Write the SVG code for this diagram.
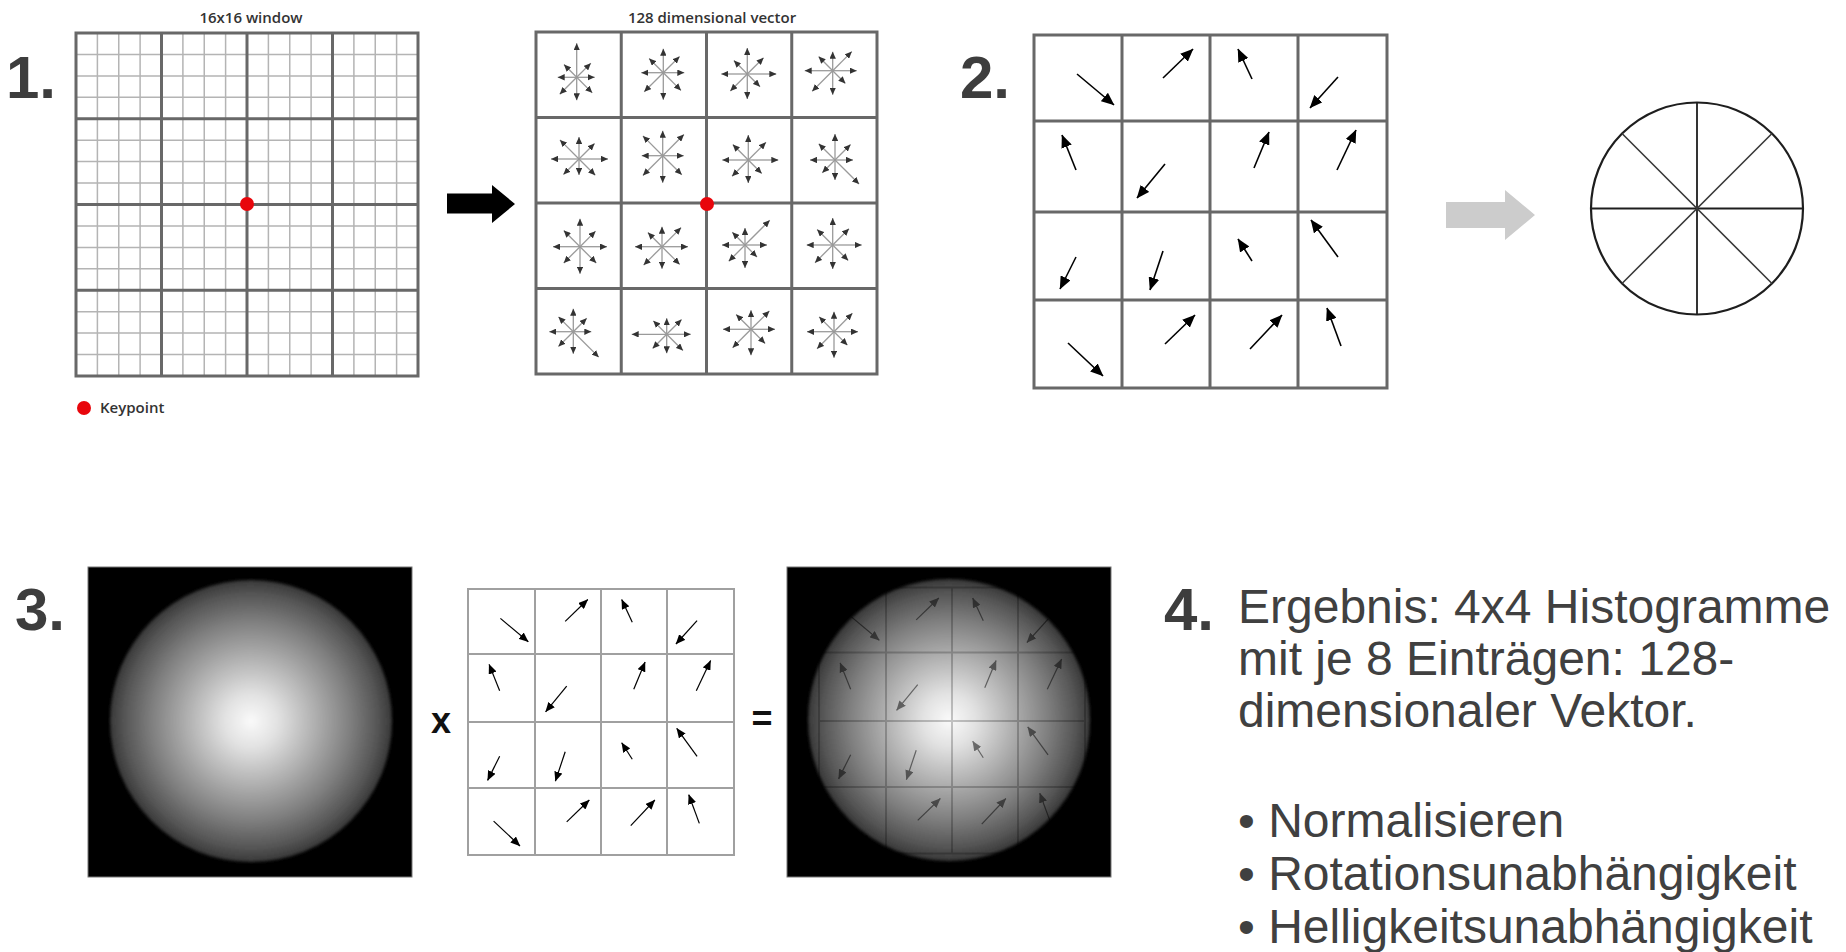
<svg xmlns="http://www.w3.org/2000/svg" xmlns:xlink="http://www.w3.org/1999/xlink" width="1846" height="952" viewBox="0 0 1846 952">
  <style>
    .num { font-family: "Liberation Sans", Arial, sans-serif; font-weight: bold; font-size: 60px; fill: #3d3d3d; }
    .cap { font-family: "Open Sans", "Liberation Sans", sans-serif; font-weight: 600; font-size: 15px; fill: #333; }
    .op { font-family: "Liberation Sans", Arial, sans-serif; font-weight: bold; font-size: 36px; fill: #111; text-anchor: middle; }
    .body { font-family: "Liberation Sans", Arial, sans-serif; font-size: 48px; fill: #404040; }
    .thin { fill: none; stroke: #b4b4b4; stroke-width: 1.5; }
    .thick { fill: none; stroke: #686868; stroke-width: 3; }
    .star line { stroke: #9a9a9a; stroke-width: 1.3; marker-end: url(#star-head); }
    .kp { fill: #e8060c; }
    .sphere { fill: url(#gauss); filter: url(#soft); }
  </style>
  <defs>
    <marker id="star-head" markerUnits="userSpaceOnUse" viewBox="0 0 7 6.4" markerWidth="7" markerHeight="6.4" refX="7" refY="3.2" orient="auto">
      <path d="M0,0 L7,3.2 L0,6.4 z" fill="#333"/>
    </marker>
    <marker id="grad-head" markerUnits="userSpaceOnUse" viewBox="0 0 13 11" markerWidth="13" markerHeight="11" refX="12.5" refY="5.5" orient="auto">
      <path d="M0,0 L13,5.5 L0,11 z" fill="#000"/>
    </marker>
    <radialGradient id="gauss" cx="0.5" cy="0.5" r="0.5">
      <stop offset="0" stop-color="#fafafa"/>
      <stop offset="0.2" stop-color="#e0e0e0"/>
      <stop offset="0.45" stop-color="#b0b0b0"/>
      <stop offset="0.7" stop-color="#808080"/>
      <stop offset="0.9" stop-color="#555"/>
      <stop offset="1" stop-color="#383838"/>
    </radialGradient>
    <filter id="soft" x="-5%" y="-5%" width="110%" height="110%">
      <feGaussianBlur stdDeviation="1.8"/>
    </filter>
    <!-- gradient orientation per 4x4 cell -->
    <g id="grad-arrows" stroke="#000" stroke-width="1.6" marker-end="url(#grad-head)">
      <line x1="1077" y1="74" x2="1114" y2="105"/>
      <line x1="1163" y1="78" x2="1193" y2="49"/>
      <line x1="1252" y1="79" x2="1238" y2="49"/>
      <line x1="1338" y1="77" x2="1310" y2="108"/>
      <line x1="1076" y1="170" x2="1062" y2="135"/>
      <line x1="1165" y1="164" x2="1137" y2="198"/>
      <line x1="1254" y1="168" x2="1269" y2="132"/>
      <line x1="1337" y1="170" x2="1356" y2="130"/>
      <line x1="1076" y1="257" x2="1060" y2="289"/>
      <line x1="1163" y1="251" x2="1150" y2="290"/>
      <line x1="1252" y1="261" x2="1238" y2="239"/>
      <line x1="1338" y1="257" x2="1311" y2="220"/>
      <line x1="1068" y1="343" x2="1103" y2="376"/>
      <line x1="1165" y1="344" x2="1195" y2="315"/>
      <line x1="1250" y1="349" x2="1282" y2="315"/>
      <line x1="1341" y1="346" x2="1327" y2="308"/>
    </g>
  </defs>

  <rect width="1846" height="952" fill="#fff"/>

  <!-- step 1: 16x16 sample window -->
  <g id="window16">
    <text class="num" x="6" y="98">1.</text>
    <text class="cap" x="251" y="23" text-anchor="middle">16x16 window</text>
    <path class="thin" d="M97.4,33V376M118.75,33V376M140.1,33V376M182.9,33V376M204.25,33V376M225.6,33V376M268.4,33V376M289.75,33V376M311.1,33V376M353.9,33V376M375.25,33V376M396.6,33V376
      M76,54.4H418M76,75.9H418M76,97.3H418M76,140.2H418M76,161.6H418M76,183.1H418M76,225.9H418M76,247.4H418M76,268.8H418M76,311.7H418M76,333.1H418M76,354.6H418"/>
    <path class="thick" d="M76,33H418V376H76ZM161.5,33V376M247,33V376M332.5,33V376M76,118.75H418M76,204.5H418M76,290.25H418"/>
    <circle class="kp" cx="247" cy="204" r="7"/>
  </g>

  <g id="legend">
    <circle class="kp" cx="84" cy="408" r="7"/>
    <text class="cap" x="100" y="413">Keypoint</text>
  </g>

  <!-- step 1: descriptor histograms -->
  <g id="vector128">
    <text class="cap" x="712" y="23" text-anchor="middle">128 dimensional vector</text>
    <path class="thick" d="M536,32H877V374H536ZM621.25,32V374M706.5,32V374M791.75,32V374M536,117.5H877M536,203H877M536,288.5H877"/>
    <g class="star" transform="translate(576.7 77.3)"><line x2="18"/><line x2="20" transform="rotate(-45)"/><line x2="34" transform="rotate(-90)"/><line x2="18" transform="rotate(-135)"/><line x2="19" transform="rotate(180)"/><line x2="24" transform="rotate(135)"/><line x2="23" transform="rotate(90)"/><line x2="22" transform="rotate(45)"/></g>
    <g class="star" transform="translate(663.3 72.7)"><line x2="21"/><line x2="23" transform="rotate(-45)"/><line x2="24" transform="rotate(-90)"/><line x2="20" transform="rotate(-135)"/><line x2="22" transform="rotate(180)"/><line x2="27" transform="rotate(135)"/><line x2="27" transform="rotate(90)"/><line x2="25" transform="rotate(45)"/></g>
    <g class="star" transform="translate(747.3 74)"><line x2="29"/><line x2="23" transform="rotate(-45)"/><line x2="26" transform="rotate(-90)"/><line x2="19" transform="rotate(-135)"/><line x2="26" transform="rotate(180)"/><line x2="24" transform="rotate(135)"/><line x2="25" transform="rotate(90)"/><line x2="18" transform="rotate(45)"/></g>
    <g class="star" transform="translate(832.7 70.7)"><line x2="24"/><line x2="27" transform="rotate(-45)"/><line x2="19" transform="rotate(-90)"/><line x2="20" transform="rotate(-135)"/><line x2="28" transform="rotate(180)"/><line x2="29" transform="rotate(135)"/><line x2="24" transform="rotate(90)"/><line x2="18" transform="rotate(45)"/></g>
    <g class="star" transform="translate(579 159)"><line x2="29"/><line x2="22" transform="rotate(-45)"/><line x2="22" transform="rotate(-90)"/><line x2="27" transform="rotate(-135)"/><line x2="28" transform="rotate(180)"/><line x2="22" transform="rotate(135)"/><line x2="16" transform="rotate(90)"/><line x2="23" transform="rotate(45)"/></g>
    <g class="star" transform="translate(662.7 155.7)"><line x2="21"/><line x2="30" transform="rotate(-45)"/><line x2="25" transform="rotate(-90)"/><line x2="28" transform="rotate(-135)"/><line x2="21" transform="rotate(180)"/><line x2="28" transform="rotate(135)"/><line x2="27" transform="rotate(90)"/><line x2="27" transform="rotate(45)"/></g>
    <g class="star" transform="translate(748.3 160)"><line x2="30"/><line x2="25" transform="rotate(-45)"/><line x2="25" transform="rotate(-90)"/><line x2="22" transform="rotate(-135)"/><line x2="26" transform="rotate(180)"/><line x2="23" transform="rotate(135)"/><line x2="23" transform="rotate(90)"/><line x2="19" transform="rotate(45)"/></g>
    <g class="star" transform="translate(835 160)"><line x2="18"/><line x2="22" transform="rotate(-45)"/><line x2="26" transform="rotate(-90)"/><line x2="23" transform="rotate(-135)"/><line x2="25" transform="rotate(180)"/><line x2="18" transform="rotate(135)"/><line x2="20" transform="rotate(90)"/><line x2="34" transform="rotate(45)"/></g>
    <g class="star" transform="translate(580 246.7)"><line x2="27"/><line x2="22" transform="rotate(-45)"/><line x2="28" transform="rotate(-90)"/><line x2="23" transform="rotate(-135)"/><line x2="27" transform="rotate(180)"/><line x2="23" transform="rotate(135)"/><line x2="27" transform="rotate(90)"/><line x2="23" transform="rotate(45)"/></g>
    <g class="star" transform="translate(662 246.7)"><line x2="26"/><line x2="27" transform="rotate(-45)"/><line x2="20" transform="rotate(-90)"/><line x2="20" transform="rotate(-135)"/><line x2="27" transform="rotate(180)"/><line x2="26" transform="rotate(135)"/><line x2="22" transform="rotate(90)"/><line x2="25" transform="rotate(45)"/></g>
    <g class="star" transform="translate(745 245)"><line x2="22"/><line x2="35" transform="rotate(-45)"/><line x2="17" transform="rotate(-90)"/><line x2="18" transform="rotate(-135)"/><line x2="23" transform="rotate(180)"/><line x2="23" transform="rotate(135)"/><line x2="23" transform="rotate(90)"/><line x2="17" transform="rotate(45)"/></g>
    <g class="star" transform="translate(832.7 245)"><line x2="29"/><line x2="23" transform="rotate(-45)"/><line x2="27" transform="rotate(-90)"/><line x2="22" transform="rotate(-135)"/><line x2="26" transform="rotate(180)"/><line x2="25" transform="rotate(135)"/><line x2="24" transform="rotate(90)"/><line x2="22" transform="rotate(45)"/></g>
    <g class="star" transform="translate(573.3 331.7)"><line x2="18"/><line x2="19" transform="rotate(-45)"/><line x2="23" transform="rotate(-90)"/><line x2="21" transform="rotate(-135)"/><line x2="24" transform="rotate(180)"/><line x2="21" transform="rotate(135)"/><line x2="22" transform="rotate(90)"/><line x2="36" transform="rotate(45)"/></g>
    <g class="star" transform="translate(666.7 334.3)"><line x2="24"/><line x2="21" transform="rotate(-45)"/><line x2="16" transform="rotate(-90)"/><line x2="19" transform="rotate(-135)"/><line x2="35" transform="rotate(180)"/><line x2="20" transform="rotate(135)"/><line x2="19" transform="rotate(90)"/><line x2="23" transform="rotate(45)"/></g>
    <g class="star" transform="translate(751 329.3)"><line x2="24"/><line x2="26" transform="rotate(-45)"/><line x2="19" transform="rotate(-90)"/><line x2="21" transform="rotate(-135)"/><line x2="28" transform="rotate(180)"/><line x2="26" transform="rotate(135)"/><line x2="26" transform="rotate(90)"/><line x2="20" transform="rotate(45)"/></g>
    <g class="star" transform="translate(834 331.7)"><line x2="24"/><line x2="26" transform="rotate(-45)"/><line x2="20" transform="rotate(-90)"/><line x2="21" transform="rotate(-135)"/><line x2="27" transform="rotate(180)"/><line x2="24" transform="rotate(135)"/><line x2="26" transform="rotate(90)"/><line x2="19" transform="rotate(45)"/></g>
    <circle class="kp" cx="707" cy="204" r="7"/>
  </g>

  <!-- step 2: orientation per cell and 8-bin histogram -->
  <g id="orientations">
    <text class="num" x="960" y="98">2.</text>
    <path class="thick" d="M1034,35H1387V388H1034ZM1122,35V388M1210,35V388M1298,35V388M1034,121H1387M1034,212H1387M1034,300H1387"/>
    <use xlink:href="#grad-arrows" href="#grad-arrows"/>
  </g>

  <g id="bins" fill="none" stroke="#1e1e1e">
    <circle cx="1697" cy="208.5" r="106" stroke-width="2.2"/>
    <path d="M1591,208.5H1803M1697,102.5V314.5" stroke-width="1.8"/>
    <path d="M1622,133.5L1772,283.5M1622,283.5L1772,133.5" stroke="#3a3a3a" stroke-width="1.6"/>
  </g>

  <!-- step 3: gaussian weighting -->
  <g id="gauss-window">
    <text class="num" x="15" y="630">3.</text>
    <rect x="88" y="567" width="324" height="310" fill="#000" stroke="#777" stroke-width="1"/>
    <circle class="sphere" cx="251" cy="721" r="141"/>
  </g>

  <text class="op" x="441" y="733">x</text>

  <g id="gradient-grid">
    <path d="M468,589H734V855H468ZM535,589V855M601,589V855M667,589V855M468,654H734M468,722H734M468,788H734" fill="none" stroke="#a0a0a0" stroke-width="2"/>
    <use xlink:href="#grad-arrows" href="#grad-arrows" transform="translate(468 589) scale(0.7535) translate(-1034 -35)"/>
  </g>

  <text class="op" x="762" y="731">=</text>

  <g id="weighted">
    <rect x="787" y="567" width="324" height="310" fill="#000" stroke="#777" stroke-width="1"/>
    <circle class="sphere" cx="949" cy="720" r="141"/>
    <path d="M819,587.5H1085V853.5H819ZM886,587.5V853.5M952,587.5V853.5M1018,587.5V853.5M819,652.5H1085M819,721H1085M819,787H1085" fill="none" stroke="#000" stroke-opacity="0.22" stroke-width="2"/>
    <use xlink:href="#grad-arrows" href="#grad-arrows" opacity="0.5" transform="translate(819 587.5) scale(0.7535) translate(-1034 -35)"/>
  </g>

  <!-- step 4: result -->
  <g id="result">
    <text class="num" x="1164" y="630">4.</text>
    <text class="body" x="1238" y="623">Ergebnis: 4x4 Histogramme</text>
    <text class="body" x="1238" y="675">mit je 8 Einträgen: 128-</text>
    <text class="body" x="1238" y="727">dimensionaler Vektor.</text>
    <text class="body" x="1238" y="837">• Normalisieren</text>
    <text class="body" x="1238" y="890">• Rotationsunabhängigkeit</text>
    <text class="body" x="1238" y="943">• Helligkeitsunabhängigkeit</text>
  </g>

  <g id="connectors">
    <path d="M447,193.5H492V185L515,204L492,223V213.5H447Z" fill="#000"/>
    <path d="M1446,202H1505V190L1535,215L1505,240V228H1446Z" fill="#cccccc"/>
  </g>
</svg>
